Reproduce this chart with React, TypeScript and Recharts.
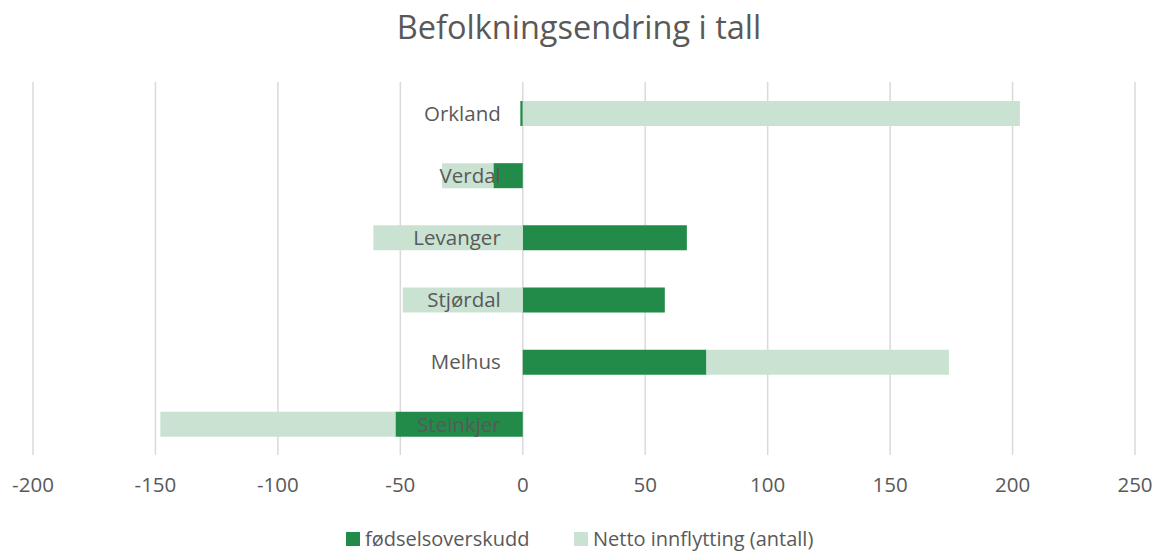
import { BarChart, Bar, XAxis, YAxis, CartesianGrid, LabelList } from 'recharts'

const kommuner = ['Orkland', 'Verdal', 'Levanger', 'Stjørdal', 'Melhus', 'Steinkjer']
const fodselsoverskudd = [-1, -12, 67, 58, 75, -52]
const nettoInnflytting = [203, -21, -61, -49, 99, -96]
const xTicks = [-200, -150, -100, -50, 0, 50, 100, 150, 200, 250]

const data = kommuner.map((name, i) => ({
  name,
  fodsel: fodselsoverskudd[i],
  netto: nettoInnflytting[i],
}))

const W = 1158
const H = 551
const margin = { top: 82, right: 23, bottom: 56, left: 33 }
const font = '"Open Sans", "Liberation Sans", sans-serif'
const textColor = '#595959'
const dark = '#228b4a'
const light = '#c9e2d1'

// labels sit next to the zero line, like in Excel
const plotW = W - margin.left - margin.right
const zeroX = margin.left + ((0 - xTicks[0]) / (xTicks[xTicks.length - 1] - xTicks[0])) * plotW

function CategoryLabel(props: any) {
  const { y, height, value } = props
  return (
    <text
      x={zeroX - 22}
      y={y + height / 2}
      dy="0.35em"
      textAnchor="end"
      fill={textColor}
      fontSize={20.5}
      fontFamily={font}
    >
      {value}
    </text>
  )
}

function LegendItem({ color, label, left }: { color: string; label: string; left: number }) {
  return (
    <div style={{ position: 'absolute', left, top: 0, display: 'flex', alignItems: 'center', height: 24 }}>
      <span style={{ width: 14, height: 14, background: color, marginRight: 5 }} />
      <span style={{ whiteSpace: 'nowrap' }}>{label}</span>
    </div>
  )
}

export default function App() {
  return (
    <div
      style={{
        position: 'absolute',
        left: 0,
        top: 0,
        width: W,
        height: H,
        background: '#fff',
        fontFamily: font,
        color: textColor,
        overflow: 'hidden',
      }}
    >
      <div
        style={{
          position: 'absolute',
          top: 5,
          width: W,
          textAlign: 'center',
          fontSize: 32.5,
          lineHeight: '44px',
        }}
      >
        Befolkningsendring i tall
      </div>
      <BarChart
        width={W}
        height={H}
        data={data}
        layout="vertical"
        stackOffset="sign"
        margin={margin}
      >
        <CartesianGrid horizontal={false} stroke="#d9d9d9" strokeWidth={1.5} />
        <XAxis
          type="number"
          domain={[-200, 250]}
          ticks={xTicks}
          axisLine={false}
          tickLine={false}
          tickSize={0}
          tickMargin={22}
          height={40}
          tick={{ fill: textColor, fontSize: 20.5, fontFamily: font }}
        />
        <YAxis type="category" dataKey="name" hide />
        <Bar dataKey="fodsel" stackId="a" fill={dark} barSize={25} isAnimationActive={false} />
        <Bar dataKey="netto" stackId="a" fill={light} barSize={25} isAnimationActive={false}>
          <LabelList dataKey="name" content={<CategoryLabel />} />
        </Bar>
      </BarChart>
      <div
        style={{
          position: 'absolute',
          top: 527,
          left: 0,
          width: W,
          height: 24,
          fontSize: 20,
          lineHeight: '24px',
        }}
      >
        <LegendItem color={dark} label="fødselsoverskudd" left={346} />
        <LegendItem color={light} label="Netto innflytting (antall)" left={574} />
      </div>
    </div>
  )
}
